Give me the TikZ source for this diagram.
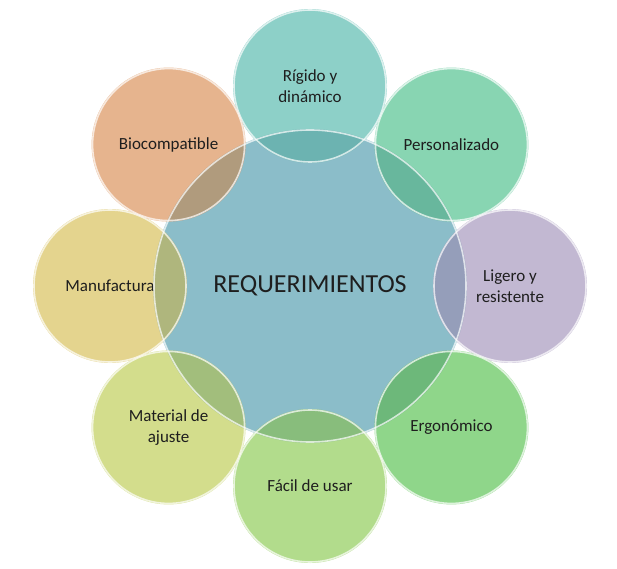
\documentclass[tikz,border=0pt]{standalone}
\usepackage{fontspec}
\setmainfont{Carlito}
\usepackage{xcolor}
\usepackage{tikz}
\usetikzlibrary{positioning}

\definecolor{cReq}{HTML}{8BBDC9}
\definecolor{cTint}{HTML}{C4DCE2}
\definecolor{cRig}{HTML}{8DD0C8}
\definecolor{cPer}{HTML}{88D5B2}
\definecolor{cLig}{HTML}{C2B8D2}
\definecolor{cErg}{HTML}{8FD68A}
\definecolor{cFac}{HTML}{B2DC8C}
\definecolor{cMat}{HTML}{D3DD8C}
\definecolor{cMan}{HTML}{E4D48E}
\definecolor{cBio}{HTML}{E6B48E}
\definecolor{cText}{HTML}{1E1E1E}

\begin{document}
\begin{tikzpicture}[x=1pt, y=1pt,
    bubble/.style={circle, minimum size=154pt, inner sep=0pt, align=center,
        font=\fontsize{17}{21}\selectfont, text=cText},
    rim/.style={draw=white, line width=1.6pt, draw opacity=0.7}]
        \useasboundingbox (0,0) rectangle (617,568);
        \node (req) [circle, fill=cReq, minimum size=314pt, inner sep=0pt,
            font=\fontsize{26}{31}\selectfont, text=cText] at (310,282) {REQUERIMIENTOS};
        \foreach \ang/\nm/\col/\txt in {90/rig/cRig/{Rígido y\\dinámico},
                45/per/cPer/Personalizado, 0/lig/cLig/{Ligero y\\resistente},
                -45/erg/cErg/Ergonómico, -90/fac/cFac/Fácil de usar,
                -135/mat/cMat/{Material de\\ajuste}, 180/man/cMan/Manufactura,
                135/bio/cBio/Biocompatible} {
            \node (\nm) [bubble, fill=\col] at ([shift={(\ang:200)}]req.center) {\txt};
            % darker lens where a bubble lies on the centre
            \begin{scope}
                \clip (\nm.center) circle (77);
                \fill [cTint, blend mode=multiply] (req.center) circle (157);
            \end{scope}
        }
        \draw [rim] (req.center) circle (156);
        \foreach \nm in {rig, per, lig, erg, fac, mat, man, bio}
            \draw [rim] (\nm.center) circle (76);
    \end{tikzpicture}
\end{document}
